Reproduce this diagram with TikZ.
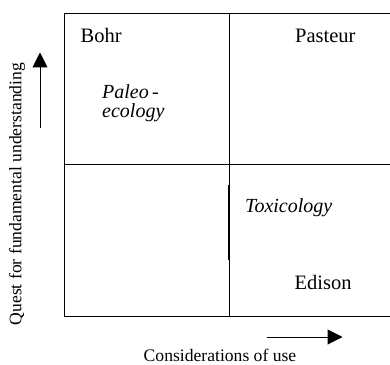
\documentclass[tikz,border=0pt]{standalone}
\usepackage{fontspec}
\setmainfont{Liberation Serif}
\usepackage{tikz}
\usetikzlibrary{arrows.meta,positioning}

\begin{document}
\begin{tikzpicture}[x=1pt,y=1pt,
  grille/.style={line width=1pt,black},
  quad/.style={font=\fontsize{20.5}{19}\selectfont,anchor=base west,inner sep=0pt,align=left},
  champ/.style={font=\fontsize{20}{19}\selectfont\itshape,anchor=base west,inner sep=0pt,align=left},
  axe/.style={font=\fontsize{17.6}{19}\selectfont,inner sep=0pt},
  f/.style={-{Triangle[length=15pt,width=15pt]},line width=1pt}]
  \useasboundingbox (0,0) rectangle (390,364);
  % ---- matrice
  \coordinate (nw) at (64.5,350);
  \coordinate (se) at (393.5,47.3);
  \draw[grille] (nw) rectangle (se);
  \draw[grille] (229,350) -- (229,47.3);
  \draw[grille] (64.5,199) -- (393.5,199);
  \draw[line width=2pt] (229,179) -- (229,104);
  % ---- quadrants
  \node[quad] (bohr) at (80.5,321) {Bohr};
  \node[quad] (pasteur) at (295,321) {Pasteur};
  \node[quad] (edison) at (294.5,75) {Edison};
  \node[champ] (paleo) at (102,246.5) {Paleo\,-\\ecology};
  \node[champ] (toxi) at (245,151) {Toxicology};
  % ---- axes
  \coordinate (y0) at (40,236);
  \coordinate (y1) at (40,311.5);
  \draw[f] (y0) -- (y1);
  \node[axe,rotate=90] (qfu) at (17,170) {Quest for fundamental understanding};
  \coordinate (x0) at (267,27);
  \coordinate (x1) at (342.5,27);
  \draw[f] (x0) -- (x1);
  \node[axe,anchor=base] (cou) at (220,2.5) {Considerations of use};
\end{tikzpicture}
\end{document}
